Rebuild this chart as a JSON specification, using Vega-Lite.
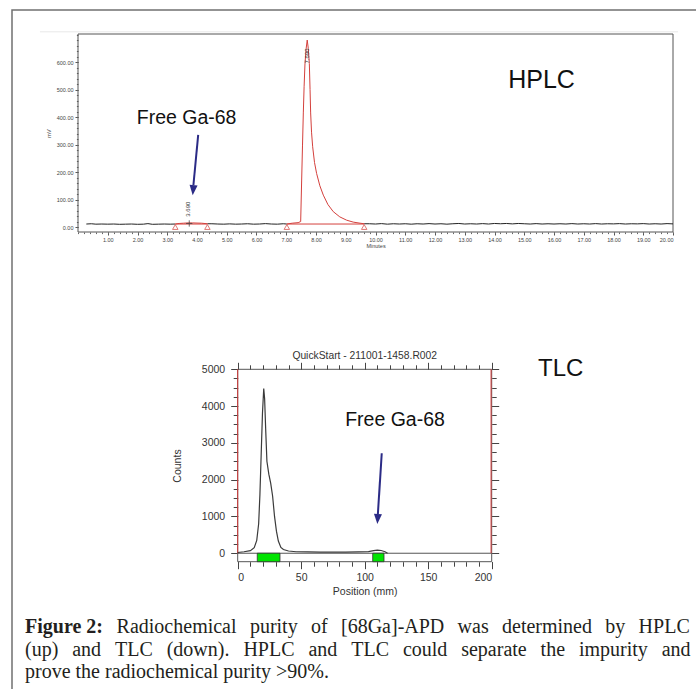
{
  "$schema": "https://vega.github.io/schema/vega-lite/v6.json",
  "width": 686,
  "height": 681,
  "autosize": {"type": "none"},
  "padding": {"left": 12, "top": 10, "right": -2, "bottom": -2},
  "background": "white",
  "config": {
    "view": {"stroke": "#707070", "strokeWidth": 1.5},
    "font": "Liberation Sans",
    "axis": {"grid": false, "labelFont": "Liberation Sans", "titleFont": "Liberation Sans", "labelOverlap": false}
  },
  "datasets": {
    "hplc": [
      {"t": 0.28, "mv": 11, "seg": "a", "trace": "base"}, {"t": 0.45, "mv": 12, "seg": "a", "trace": "base"}, {"t": 0.6, "mv": 10.5, "seg": "a", "trace": "base"}, {"t": 0.8, "mv": 11, "seg": "a", "trace": "base"}, {"t": 1.0, "mv": 10.5, "seg": "a", "trace": "base"}, {"t": 1.2, "mv": 11, "seg": "a", "trace": "base"}, {"t": 1.4, "mv": 10, "seg": "a", "trace": "base"}, {"t": 1.6, "mv": 10.5, "seg": "a", "trace": "base"}, {"t": 1.8, "mv": 11, "seg": "a", "trace": "base"}, {"t": 2.0, "mv": 10, "seg": "a", "trace": "base"}, {"t": 2.2, "mv": 10.5, "seg": "a", "trace": "base"}, {"t": 2.35, "mv": 12.5, "seg": "a", "trace": "base"}, {"t": 2.5, "mv": 10, "seg": "a", "trace": "base"}, {"t": 2.7, "mv": 10.5, "seg": "a", "trace": "base"}, {"t": 2.9, "mv": 11, "seg": "a", "trace": "base"}, {"t": 3.1, "mv": 10.5, "seg": "a", "trace": "base"}, {"t": 3.27, "mv": 11, "seg": "a", "trace": "base"},
      {"t": 3.27, "mv": 11, "seg": "p1", "trace": "peak"}, {"t": 3.4, "mv": 13, "seg": "p1", "trace": "peak"}, {"t": 3.55, "mv": 14, "seg": "p1", "trace": "peak"}, {"t": 3.7, "mv": 15, "seg": "p1", "trace": "peak"}, {"t": 3.85, "mv": 15, "seg": "p1", "trace": "peak"}, {"t": 4.0, "mv": 14.5, "seg": "p1", "trace": "peak"}, {"t": 4.15, "mv": 14, "seg": "p1", "trace": "peak"}, {"t": 4.35, "mv": 12, "seg": "p1", "trace": "peak"},
      {"t": 4.35, "mv": 12, "seg": "b", "trace": "base"}, {"t": 4.5, "mv": 12, "seg": "b", "trace": "base"}, {"t": 4.7, "mv": 11, "seg": "b", "trace": "base"}, {"t": 4.9, "mv": 10.5, "seg": "b", "trace": "base"}, {"t": 5.1, "mv": 11.5, "seg": "b", "trace": "base"}, {"t": 5.3, "mv": 10.5, "seg": "b", "trace": "base"}, {"t": 5.5, "mv": 11, "seg": "b", "trace": "base"}, {"t": 5.7, "mv": 12, "seg": "b", "trace": "base"}, {"t": 5.9, "mv": 10.5, "seg": "b", "trace": "base"}, {"t": 6.1, "mv": 11, "seg": "b", "trace": "base"}, {"t": 6.3, "mv": 12.5, "seg": "b", "trace": "base"}, {"t": 6.5, "mv": 11, "seg": "b", "trace": "base"}, {"t": 6.7, "mv": 10.5, "seg": "b", "trace": "base"}, {"t": 6.9, "mv": 12, "seg": "b", "trace": "base"}, {"t": 7.02, "mv": 11, "seg": "b", "trace": "base"},
      {"t": 7.02, "mv": 11, "seg": "p2", "trace": "peak"}, {"t": 7.2, "mv": 14, "seg": "p2", "trace": "peak"}, {"t": 7.4, "mv": 16, "seg": "p2", "trace": "peak"}, {"t": 7.485, "mv": 20, "seg": "p2", "trace": "peak"}, {"t": 7.518, "mv": 171, "seg": "p2", "trace": "peak"}, {"t": 7.546, "mv": 295, "seg": "p2", "trace": "peak"}, {"t": 7.574, "mv": 415, "seg": "p2", "trace": "peak"}, {"t": 7.6, "mv": 510, "seg": "p2", "trace": "peak"}, {"t": 7.63, "mv": 595, "seg": "p2", "trace": "peak"}, {"t": 7.67, "mv": 650, "seg": "p2", "trace": "peak"}, {"t": 7.705, "mv": 680, "seg": "p2", "trace": "peak"}, {"t": 7.74, "mv": 650, "seg": "p2", "trace": "peak"}, {"t": 7.776, "mv": 595, "seg": "p2", "trace": "peak"}, {"t": 7.8, "mv": 500, "seg": "p2", "trace": "peak"}, {"t": 7.82, "mv": 415, "seg": "p2", "trace": "peak"}, {"t": 7.85, "mv": 345, "seg": "p2", "trace": "peak"}, {"t": 7.888, "mv": 292, "seg": "p2", "trace": "peak"}, {"t": 7.95, "mv": 235, "seg": "p2", "trace": "peak"}, {"t": 8.02, "mv": 195, "seg": "p2", "trace": "peak"}, {"t": 8.13, "mv": 150, "seg": "p2", "trace": "peak"}, {"t": 8.246, "mv": 116, "seg": "p2", "trace": "peak"}, {"t": 8.4, "mv": 82, "seg": "p2", "trace": "peak"}, {"t": 8.58, "mv": 56, "seg": "p2", "trace": "peak"}, {"t": 8.8, "mv": 37, "seg": "p2", "trace": "peak"}, {"t": 9.03, "mv": 25, "seg": "p2", "trace": "peak"}, {"t": 9.25, "mv": 18, "seg": "p2", "trace": "peak"}, {"t": 9.48, "mv": 14, "seg": "p2", "trace": "peak"}, {"t": 9.62, "mv": 12, "seg": "p2", "trace": "peak"},
      {"t": 9.62, "mv": 12, "seg": "c", "trace": "base"}, {"t": 9.8, "mv": 12, "seg": "c", "trace": "base"}, {"t": 10.0, "mv": 11, "seg": "c", "trace": "base"}, {"t": 10.2, "mv": 12.5, "seg": "c", "trace": "base"}, {"t": 10.4, "mv": 10.5, "seg": "c", "trace": "base"}, {"t": 10.6, "mv": 12, "seg": "c", "trace": "base"}, {"t": 10.8, "mv": 11, "seg": "c", "trace": "base"}, {"t": 11.0, "mv": 12, "seg": "c", "trace": "base"}, {"t": 11.2, "mv": 10.5, "seg": "c", "trace": "base"}, {"t": 11.4, "mv": 12, "seg": "c", "trace": "base"}, {"t": 11.6, "mv": 11, "seg": "c", "trace": "base"}, {"t": 11.8, "mv": 12.5, "seg": "c", "trace": "base"}, {"t": 12.0, "mv": 11, "seg": "c", "trace": "base"}, {"t": 12.2, "mv": 12, "seg": "c", "trace": "base"}, {"t": 12.4, "mv": 10.5, "seg": "c", "trace": "base"}, {"t": 12.6, "mv": 12, "seg": "c", "trace": "base"}, {"t": 12.8, "mv": 13, "seg": "c", "trace": "base"}, {"t": 13.0, "mv": 11, "seg": "c", "trace": "base"}, {"t": 13.2, "mv": 12, "seg": "c", "trace": "base"}, {"t": 13.4, "mv": 11, "seg": "c", "trace": "base"}, {"t": 13.6, "mv": 12.5, "seg": "c", "trace": "base"}, {"t": 13.8, "mv": 11, "seg": "c", "trace": "base"}, {"t": 14.0, "mv": 13, "seg": "c", "trace": "base"}, {"t": 14.2, "mv": 12, "seg": "c", "trace": "base"}, {"t": 14.4, "mv": 13, "seg": "c", "trace": "base"}, {"t": 14.6, "mv": 11.5, "seg": "c", "trace": "base"}, {"t": 14.8, "mv": 13, "seg": "c", "trace": "base"}, {"t": 15.0, "mv": 12, "seg": "c", "trace": "base"}, {"t": 15.2, "mv": 11, "seg": "c", "trace": "base"}, {"t": 15.4, "mv": 12.5, "seg": "c", "trace": "base"}, {"t": 15.6, "mv": 11, "seg": "c", "trace": "base"}, {"t": 15.8, "mv": 12, "seg": "c", "trace": "base"}, {"t": 16.0, "mv": 11, "seg": "c", "trace": "base"}, {"t": 16.2, "mv": 12, "seg": "c", "trace": "base"}, {"t": 16.4, "mv": 11, "seg": "c", "trace": "base"}, {"t": 16.6, "mv": 12.5, "seg": "c", "trace": "base"}, {"t": 16.8, "mv": 11, "seg": "c", "trace": "base"}, {"t": 17.0, "mv": 12, "seg": "c", "trace": "base"}, {"t": 17.2, "mv": 11, "seg": "c", "trace": "base"}, {"t": 17.4, "mv": 12.5, "seg": "c", "trace": "base"}, {"t": 17.6, "mv": 11, "seg": "c", "trace": "base"}, {"t": 17.8, "mv": 12, "seg": "c", "trace": "base"}, {"t": 18.0, "mv": 11.5, "seg": "c", "trace": "base"}, {"t": 18.2, "mv": 12.5, "seg": "c", "trace": "base"}, {"t": 18.4, "mv": 11, "seg": "c", "trace": "base"}, {"t": 18.6, "mv": 12, "seg": "c", "trace": "base"}, {"t": 18.8, "mv": 11.5, "seg": "c", "trace": "base"}, {"t": 19.0, "mv": 12.5, "seg": "c", "trace": "base"}, {"t": 19.2, "mv": 11, "seg": "c", "trace": "base"}, {"t": 19.4, "mv": 12, "seg": "c", "trace": "base"}, {"t": 19.6, "mv": 11, "seg": "c", "trace": "base"}, {"t": 19.8, "mv": 12.5, "seg": "c", "trace": "base"}, {"t": 20.0, "mv": 11.5, "seg": "c", "trace": "base"}
    ],
    "hplcFrame": [{"t": 0, "t2": 20, "mv": -18, "mv2": 702}],
    "hplcTopLine": [{"t": -1.28, "t2": 20.17, "mv": 710}],
    "hplcInt": [{"t": 3.27, "t2": 4.35, "mv": 11}, {"t": 7.02, "t2": 9.62, "mv": 11}],
    "hplcMarks": [{"t": 3.27, "mv": 0}, {"t": 4.35, "mv": 0}, {"t": 7.02, "mv": 0}, {"t": 9.62, "mv": 0}],
    "hplcApex": [{"t": 3.74, "mv": 13}],
    "hplcLabels": [{"t": 3.71, "mv": 65, "text": "3.690"}, {"t": 7.71, "mv": 622, "text": "7.690"}],
    "hplcNotes": [{"kind": "note", "t": 3.65, "mv": 396, "text": "Free Ga-68"}, {"kind": "title", "t": 15.58, "mv": 534, "text": "HPLC"}],
    "hplcArrow": [{"t": 4.04, "mv": 335, "t2": 3.88, "mv2": 153}],
    "hplcArrowHead": [{"t": 3.87, "mv": 134}],
    "tlc": [
      {"pos": 0, "counts": 20}, {"pos": 5, "counts": 40}, {"pos": 10, "counts": 70}, {"pos": 13, "counts": 150}, {"pos": 15, "counts": 350}, {"pos": 16.5, "counts": 800}, {"pos": 17.5, "counts": 1600}, {"pos": 18.5, "counts": 2700}, {"pos": 19.5, "counts": 3800}, {"pos": 20.5, "counts": 4480}, {"pos": 21.2, "counts": 4200}, {"pos": 22, "counts": 3400}, {"pos": 23, "counts": 2500}, {"pos": 24.5, "counts": 2150}, {"pos": 26, "counts": 1900}, {"pos": 27.5, "counts": 1550}, {"pos": 29, "counts": 1000}, {"pos": 30.5, "counts": 600}, {"pos": 32, "counts": 330}, {"pos": 34, "counts": 160}, {"pos": 36, "counts": 100}, {"pos": 40, "counts": 60}, {"pos": 46, "counts": 40}, {"pos": 55, "counts": 35}, {"pos": 65, "counts": 30}, {"pos": 75, "counts": 28}, {"pos": 85, "counts": 30}, {"pos": 95, "counts": 35}, {"pos": 103, "counts": 45}, {"pos": 107, "counts": 70}, {"pos": 110, "counts": 85}, {"pos": 113, "counts": 75}, {"pos": 116, "counts": 40}, {"pos": 118, "counts": 0}
    ],
    "tlcFrame": [{"pos": 0, "pos2": 200, "counts": -230, "counts2": 5000}],
    "tlcZero": [{"pos": 0, "pos2": 200, "counts": 0}],
    "tlcZones": [{"pos": 15.4, "pos2": 33.3, "counts": 0, "counts2": -230}, {"pos": 106.3, "pos2": 115.2, "counts": 0, "counts2": -230}],
    "tlcLimits": [{"pos": 0, "counts": 0, "counts2": 5000}, {"pos": 199.5, "counts": 0, "counts2": 5000}],
    "tlcNotes": [{"kind": "note", "pos": 123.9, "counts": 3622, "text": "Free Ga-68"}, {"kind": "title", "pos": 254.4, "counts": 5016, "text": "TLC"}, {"kind": "run", "pos": 100, "counts": 5370, "text": "QuickStart - 211001-1458.R002"}],
    "tlcArrow": [{"pos": 113.4, "counts": 2717, "pos2": 110.4, "counts2": 1068}],
    "tlcArrowHead": [{"pos": 110.2, "counts": 932}],
    "caption": [
      {"line": 1, "slot": 1, "text": "Figure 2:"}, {"line": 1, "slot": 2, "text": "Radiochemical"}, {"line": 1, "slot": 3, "text": "purity"}, {"line": 1, "slot": 4, "text": "of"}, {"line": 1, "slot": 5, "text": "[68Ga]-APD"}, {"line": 1, "slot": 6, "text": "was"}, {"line": 1, "slot": 7, "text": "determined"}, {"line": 1, "slot": 8, "text": "by"}, {"line": 1, "slot": 9, "text": "HPLC"},
      {"line": 2, "slot": 1, "text": "(up)"}, {"line": 2, "slot": 2, "text": "and"}, {"line": 2, "slot": 3, "text": "TLC"}, {"line": 2, "slot": 4, "text": "(down)."}, {"line": 2, "slot": 5, "text": "HPLC"}, {"line": 2, "slot": 6, "text": "and"}, {"line": 2, "slot": 7, "text": "TLC"}, {"line": 2, "slot": 8, "text": "could"}, {"line": 2, "slot": 9, "text": "separate"}, {"line": 2, "slot": 10, "text": "the"}, {"line": 2, "slot": 11, "text": "impurity"}, {"line": 2, "slot": 12, "text": "and"},
      {"line": 3, "slot": 1, "text": "prove the radiochemical purity >90%."}
    ]
  },
  "resolve": {"scale": {"x": "independent", "y": "independent"}, "axis": {"x": "independent", "y": "independent"}},
  "layer": [
    {
      "data": {"name": "caption"},
      "resolve": {"scale": {"x": "independent"}},
      "encoding": {
        "y": {"field": "line", "type": "quantitative", "scale": {"domain": [1, 3], "range": [617, 662], "nice": false, "zero": false}, "axis": null},
        "text": {"field": "text"}
      },
      "layer": [
        {
          "transform": [{"filter": "datum.line == 1"}],
          "encoding": {"x": {"field": "slot", "type": "quantitative", "scale": {"domain": [1, 2, 3, 4, 5, 6, 7, 8, 9], "range": [13, 104.6, 237.9, 299, 329, 445.6, 490, 593.3, 626.6], "nice": false, "zero": false}, "axis": null}},
          "layer": [
            {"transform": [{"filter": "datum.slot == 1"}], "mark": {"type": "text", "align": "left", "baseline": "middle", "font": "Liberation Serif", "fontSize": 20, "fontWeight": "bold", "color": "#231f20"}},
            {"transform": [{"filter": "datum.slot > 1"}], "mark": {"type": "text", "align": "left", "baseline": "middle", "font": "Liberation Serif", "fontSize": 20, "color": "#231f20"}}
          ]
        },
        {
          "transform": [{"filter": "datum.line == 2"}],
          "mark": {"type": "text", "align": "left", "baseline": "middle", "font": "Liberation Serif", "fontSize": 20, "color": "#231f20"},
          "encoding": {"x": {"field": "slot", "type": "quantitative", "scale": {"domain": [1, 2, 3, 4, 5, 6, 7, 8, 9, 10, 11, 12], "range": [13, 60.2, 103, 154.7, 231.4, 296.4, 339.2, 390.9, 449.2, 528.6, 566.9, 649.7], "nice": false, "zero": false}, "axis": null}}
        },
        {
          "transform": [{"filter": "datum.line == 3"}],
          "mark": {"type": "text", "align": "left", "baseline": "middle", "font": "Liberation Serif", "fontSize": 20, "color": "#231f20"},
          "encoding": {"x": {"field": "slot", "type": "quantitative", "scale": {"domain": [1, 2], "range": [13, 100], "nice": false, "zero": false}, "axis": null}}
        }
      ]
    },
    {
      "encoding": {
        "x": {"field": "t", "type": "quantitative", "scale": {"domain": [0, 20], "range": [66, 661], "nice": false, "zero": false},
          "axis": {"orient": "bottom", "offset": -459, "values": [1, 2, 3, 4, 5, 6, 7, 8, 9, 10, 11, 12, 13, 14, 15, 16, 17, 18, 19, 20], "format": ".2f", "domain": false, "tickSize": 3, "tickColor": "#555", "labelFontSize": 5.5, "labelColor": "#444", "labelPadding": 2, "title": "Minutes", "titleFontSize": 5.5, "titleFontWeight": "normal", "titleColor": "#444", "titlePadding": 1}},
        "y": {"field": "mv", "type": "quantitative", "scale": {"domain": [-18, 702], "range": [222, 24], "nice": false, "zero": false},
          "axis": {"orient": "left", "offset": -66, "values": [0, 100, 200, 300, 400, 500, 600], "format": ".2f", "domain": false, "tickSize": 3, "tickColor": "#555", "labelFontSize": 5.5, "labelColor": "#444", "labelPadding": 2, "title": "mV", "titleFontSize": 5.5, "titleFontWeight": "normal", "titleColor": "#444", "titlePadding": 5}}
      },
      "layer": [
        {"data": {"name": "hplcTopLine"}, "mark": {"type": "rule", "color": "#e8e8e8", "strokeWidth": 1},
          "encoding": {"x2": {"field": "t2"}}},
        {"data": {"name": "hplcFrame"}, "mark": {"type": "rect", "fill": "transparent", "stroke": "#555", "strokeWidth": 1},
          "encoding": {"x2": {"field": "t2"}, "y2": {"field": "mv2"}}},
        {"data": {"name": "hplc"}, "mark": {"type": "line", "strokeWidth": 1},
          "encoding": {"detail": {"field": "seg"}, "color": {"field": "trace", "type": "nominal", "scale": {"domain": ["base", "peak"], "range": ["#222222", "#d4403c"]}, "legend": null}}},
        {"data": {"name": "hplcInt"}, "mark": {"type": "rule", "color": "#d4403c", "strokeWidth": 1}, "encoding": {"x2": {"field": "t2"}}},
        {"data": {"name": "hplcMarks"}, "mark": {"type": "point", "shape": "triangle-up", "size": 30, "filled": false, "color": "#d4403c", "strokeWidth": 1}},
        {"data": {"name": "hplcApex"}, "mark": {"type": "point", "shape": "M-1,0L1,0M0,-1L0,1", "size": 40, "filled": false, "color": "#333", "strokeWidth": 1}},
        {"data": {"name": "hplcLabels"}, "mark": {"type": "text", "angle": 270, "align": "center", "baseline": "middle", "fontSize": 6, "color": "#333"}, "encoding": {"text": {"field": "text"}}},
        {"data": {"name": "hplcArrow"}, "mark": {"type": "rule", "color": "#2b2b86", "strokeWidth": 2}, "encoding": {"x2": {"field": "t2"}, "y2": {"field": "mv2"}}},
        {"data": {"name": "hplcArrowHead"}, "mark": {"type": "point", "shape": "M-0.8,-1L0.8,-1L0,1Z", "size": 100, "filled": true, "opacity": 1, "color": "#2b2b86", "angle": 5}},
        {"data": {"name": "hplcNotes"}, "transform": [{"filter": "datum.kind == 'note'"}], "mark": {"type": "text", "align": "center", "baseline": "middle", "fontSize": 19.5, "color": "#111"}, "encoding": {"text": {"field": "text"}}},
        {"data": {"name": "hplcNotes"}, "transform": [{"filter": "datum.kind == 'title'"}], "mark": {"type": "text", "align": "center", "baseline": "middle", "fontSize": 25, "color": "#111"}, "encoding": {"text": {"field": "text"}}}
      ]
    },
    {
      "data": {"name": "hplc"},
      "mark": {"type": "point", "opacity": 0},
      "encoding": {
        "x": {"field": "t", "type": "quantitative", "scale": {"domain": [0, 20], "range": [66, 661], "nice": false, "zero": false},
          "axis": {"orient": "bottom", "offset": -459, "tickCount": 100, "labels": false, "domain": false, "tickSize": 1.6, "tickColor": "#666", "title": null}},
        "y": {"field": "mv", "type": "quantitative", "scale": {"domain": [-18, 702], "range": [222, 24], "nice": false, "zero": false},
          "axis": {"orient": "left", "offset": -66, "tickCount": 36, "labels": false, "domain": false, "tickSize": 1.6, "tickColor": "#666", "title": null}}
      }
    },
    {
      "encoding": {
        "x": {"field": "pos", "type": "quantitative", "scale": {"domain": [0, 200], "range": [225.7, 479.7], "nice": false, "zero": false},
          "axis": {"orient": "bottom", "offset": -129.3, "values": [0, 50, 100, 150, 200], "format": "d", "domain": false, "tickSize": 7, "tickColor": "#444", "labelFontSize": 10.5, "labelColor": "#333", "labelPadding": 4, "title": "Position (mm)", "titleFontSize": 10.5, "titleFontWeight": "normal", "titleColor": "#333", "titlePadding": 3}},
        "y": {"field": "counts", "type": "quantitative", "scale": {"domain": [-230, 5000], "range": [551.7, 359.3], "nice": false, "zero": false},
          "axis": {"orient": "left", "offset": -225.7, "values": [0, 1000, 2000, 3000, 4000, 5000], "format": "d", "domain": false, "tickSize": 7, "tickColor": "#444", "labelFontSize": 10.5, "labelColor": "#333", "labelPadding": 6, "title": "Counts", "titleFontSize": 10.5, "titleFontWeight": "normal", "titleColor": "#333", "titlePadding": 19}}
      },
      "layer": [
        {"data": {"name": "tlcFrame"}, "mark": {"type": "rect", "fill": "transparent", "stroke": "#555", "strokeWidth": 1},
          "encoding": {"x2": {"field": "pos2"}, "y2": {"field": "counts2"}}},
        {"data": {"name": "tlcZero"}, "mark": {"type": "rule", "color": "#555", "strokeWidth": 1},
          "encoding": {"x2": {"field": "pos2"}}},
        {"data": {"name": "tlcLimits"}, "mark": {"type": "rule", "color": "#d33a3a", "strokeWidth": 1},
          "encoding": {"y2": {"field": "counts2"}}},
        {"data": {"name": "tlcZones"}, "mark": {"type": "rect", "color": "#00e400", "stroke": "#333", "strokeWidth": 0.8, "opacity": 1},
          "encoding": {"x2": {"field": "pos2"}, "y2": {"field": "counts2"}}},
        {"data": {"name": "tlc"}, "mark": {"type": "line", "color": "#3a3a3a", "strokeWidth": 1.2}},
        {"data": {"name": "tlcArrow"}, "mark": {"type": "rule", "color": "#2b2b86", "strokeWidth": 2}, "encoding": {"x2": {"field": "pos2"}, "y2": {"field": "counts2"}}},
        {"data": {"name": "tlcArrowHead"}, "mark": {"type": "point", "shape": "M-0.8,-1L0.8,-1L0,1Z", "size": 100, "filled": true, "opacity": 1, "color": "#2b2b86", "angle": 3.6}},
        {"data": {"name": "tlcNotes"}, "transform": [{"filter": "datum.kind == 'note'"}], "mark": {"type": "text", "align": "center", "baseline": "middle", "fontSize": 19.5, "color": "#111"}, "encoding": {"text": {"field": "text"}}},
        {"data": {"name": "tlcNotes"}, "transform": [{"filter": "datum.kind == 'title'"}], "mark": {"type": "text", "align": "center", "baseline": "middle", "fontSize": 24, "color": "#111"}, "encoding": {"text": {"field": "text"}}},
        {"data": {"name": "tlcNotes"}, "transform": [{"filter": "datum.kind == 'run'"}], "mark": {"type": "text", "align": "center", "baseline": "middle", "fontSize": 10.3, "color": "#333"}, "encoding": {"text": {"field": "text"}}}
      ]
    },
    {
      "data": {"name": "tlc"},
      "mark": {"type": "point", "opacity": 0},
      "encoding": {
        "x": {"field": "pos", "type": "quantitative", "scale": {"domain": [0, 200], "range": [225.7, 479.7], "nice": false, "zero": false},
          "axis": {"orient": "bottom", "offset": -129.3, "values": [0, 10, 20, 30, 40, 50, 60, 70, 80, 90, 100, 110, 120, 130, 140, 150, 160, 170, 180, 190, 200], "labels": false, "domain": false, "tickSize": 4.5, "tickColor": "#444", "title": null}},
        "y": {"field": "counts", "type": "quantitative", "scale": {"domain": [-230, 5000], "range": [551.7, 359.3], "nice": false, "zero": false},
          "axis": {"orient": "left", "offset": -225.7, "values": [0, 250, 500, 750, 1000, 1250, 1500, 1750, 2000, 2250, 2500, 2750, 3000, 3250, 3500, 3750, 4000, 4250, 4500, 4750, 5000], "labels": false, "domain": false, "tickSize": 4.5, "tickColor": "#444", "title": null}}
      }
    },
    {
      "data": {"name": "tlc"},
      "mark": {"type": "point", "opacity": 0},
      "encoding": {
        "x": {"field": "pos", "type": "quantitative", "scale": {"domain": [0, 200], "range": [225.7, 479.7], "nice": false, "zero": false},
          "axis": {"orient": "top", "offset": -359.3, "values": [0, 50, 100, 150, 200], "labels": false, "domain": false, "tickSize": 7, "tickColor": "#444", "title": null}},
        "y": {"field": "counts", "type": "quantitative", "scale": {"domain": [-230, 5000], "range": [551.7, 359.3], "nice": false, "zero": false},
          "axis": {"orient": "right", "offset": -206.3, "values": [0, 1000, 2000, 3000, 4000, 5000], "labels": false, "domain": false, "tickSize": 7, "tickColor": "#444", "title": null}}
      }
    },
    {
      "data": {"name": "tlc"},
      "mark": {"type": "point", "opacity": 0},
      "encoding": {
        "x": {"field": "pos", "type": "quantitative", "scale": {"domain": [0, 200], "range": [225.7, 479.7], "nice": false, "zero": false},
          "axis": {"orient": "top", "offset": -359.3, "values": [0, 10, 20, 30, 40, 50, 60, 70, 80, 90, 100, 110, 120, 130, 140, 150, 160, 170, 180, 190, 200], "labels": false, "domain": false, "tickSize": 4.5, "tickColor": "#444", "title": null}},
        "y": {"field": "counts", "type": "quantitative", "scale": {"domain": [-230, 5000], "range": [551.7, 359.3], "nice": false, "zero": false},
          "axis": {"orient": "right", "offset": -206.3, "values": [0, 250, 500, 750, 1000, 1250, 1500, 1750, 2000, 2250, 2500, 2750, 3000, 3250, 3500, 3750, 4000, 4250, 4500, 4750, 5000], "labels": false, "domain": false, "tickSize": 4.5, "tickColor": "#444", "title": null}}
      }
    }
  ]
}
